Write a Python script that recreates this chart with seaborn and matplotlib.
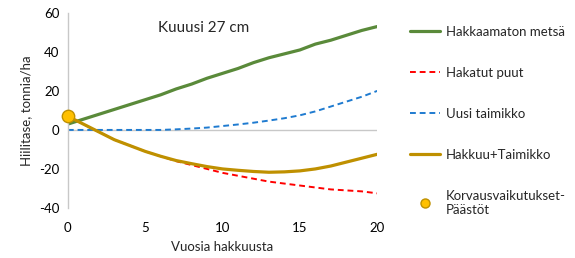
import matplotlib
matplotlib.use("Agg")
import matplotlib.pyplot as plt
import seaborn as sns
import pandas as pd
from matplotlib.lines import Line2D

years = list(range(21))
hakkaamaton = [3, 5.5, 8, 10.5, 13, 15.5, 18, 21, 23.5, 26.5, 29, 31.5, 34.5, 37, 39, 41, 44, 46, 48.5, 51, 53]
hakatut = [7, 3, -1, -5, -8, -11, -13.5, -16, -18, -20, -22, -23.5, -25, -26.5, -27.5, -28.5, -29.5, -30.5, -31, -31.5, -32.5]
uusi = [0, 0, 0, 0, 0, 0, 0, 0.3, 0.7, 1.2, 2, 2.8, 3.7, 4.8, 6, 7.5, 9.5, 12, 14.5, 17, 20]
hakkuu_taimikko = [7, 3, -1, -5, -8, -11, -13.5, -15.7, -17.3, -18.8, -20, -20.7, -21.3, -21.7, -21.5, -21, -20, -18.5, -16.5, -14.5, -12.5]
korvaus_x = [0]
korvaus_y = [7]

labels = ["Hakkaamaton metsä", "Hakatut puut", "Uusi taimikko", "Hakkuu+Taimikko",
          "Korvausvaikutukset-\nPäästöt"]
title = "Kuuusi 27 cm"
xlabel = "Vuosia hakkuusta"
ylabel = "Hiilitase, tonnia/ha"

sns.set_theme(style="white")
plt.rcParams['font.family'] = ['Lato', 'DejaVu Sans']
plt.rcParams['axes.unicode_minus'] = False

fig = plt.figure(figsize=(5.75, 2.58), dpi=100)
ax = fig.add_axes([0.118, 0.194, 0.538, 0.756])

c_green = "#5A8A3A"
c_red = "#FF0000"
c_blue = "#1F7BD0"
c_gold = "#BF9000"
fs = 9.5

df = pd.DataFrame({"x": years, "g": hakkaamaton, "r": hakatut, "b": uusi, "o": hakkuu_taimikko})
sns.lineplot(data=df, x="x", y="g", ax=ax, color=c_green, lw=2.3)
sns.lineplot(data=df, x="x", y="r", ax=ax, color=c_red, lw=1.4, linestyle=(0, (3, 2)))
sns.lineplot(data=df, x="x", y="b", ax=ax, color=c_blue, lw=1.4, linestyle=(0, (3, 2)))
sns.lineplot(data=df, x="x", y="o", ax=ax, color=c_gold, lw=2.3)
sns.scatterplot(x=korvaus_x, y=korvaus_y, ax=ax, color="#FFC000", edgecolor=c_gold,
                s=80, linewidth=1, zorder=5, clip_on=False)

ax.set_xlim(0, 20)
ax.set_ylim(-40, 60)
ax.set_xticks([0, 5, 10, 15, 20])
ax.set_yticks([-40, -20, 0, 20, 40, 60])
ax.axhline(0, color="#C8C8C8", lw=1, zorder=0)
for s in ["top", "right", "bottom"]:
    ax.spines[s].set_visible(False)
ax.spines["left"].set_color("#C8C8C8")
ax.spines["left"].set_linewidth(1)
ax.tick_params(axis="both", length=0, labelsize=fs, colors="black", pad=6)
ax.tick_params(axis="x", pad=10)
ax.set_xlabel(xlabel, fontsize=fs, labelpad=5)
ax.set_ylabel(ylabel, fontsize=fs, labelpad=5)
ax.text(0.438, 0.925, title, transform=ax.transAxes, ha="center", va="center", fontsize=11)

handles = [
    Line2D([], [], color=c_green, lw=2.3),
    Line2D([], [], color=c_red, lw=1.4, linestyle=(0, (3, 2))),
    Line2D([], [], color=c_blue, lw=1.4, linestyle=(0, (3, 2))),
    Line2D([], [], color=c_gold, lw=2.3),
    Line2D([], [], color="none", marker="o", markerfacecolor="#FFC000",
           markeredgecolor=c_gold, markersize=6.5),
]
fig.legend(handles, labels, loc="upper left", bbox_to_anchor=(0.713, 0.90), frameon=False,
           fontsize=fs, labelspacing=2.2, handlelength=2.3, handletextpad=0.4,
           borderaxespad=0, borderpad=0)

fig.savefig("out.png", dpi=100)
